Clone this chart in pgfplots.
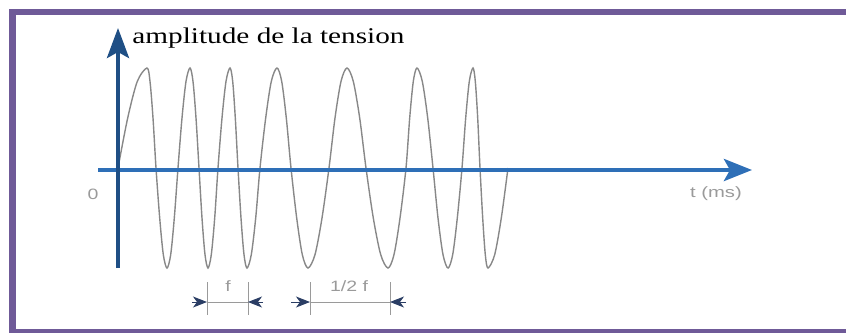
\documentclass[border=0pt]{standalone}
\usepackage{fontspec}
\setmainfont{Liberation Serif}
\setsansfont{Liberation Sans}
\usepackage{pgfplots}
\pgfplotsset{compat=1.18}
\usetikzlibrary{arrows.meta}
\definecolor{framepurple}{HTML}{6F5A98}
\definecolor{yaxisblue}{HTML}{1F4F85}
\definecolor{xaxisblue}{HTML}{2E6FB7}
\definecolor{wavegray}{HTML}{888888}
\definecolor{labgray}{HTML}{9A9A9A}
\definecolor{headnavy}{HTML}{2A3D64}
\begin{document}
\begin{tikzpicture}
\begin{axis}[
  hide axis, scale only axis,
  width=846pt, height=333pt,
  xmin=0, xmax=846, ymin=0, ymax=333,
  y dir=reverse, clip=true,
]
% invisible corners fixing the picture size
\addplot[draw=none, mark=none] coordinates {(0,0) (846,333)};
% frame (open on the right)
\addplot[draw=framepurple, line width=6.5pt, line join=miter] coordinates {(846,12) (12.5,12) (12.5,329)};
\addplot[draw=framepurple, line width=4pt] coordinates {(9.25,331) (846,331)};
% keep the right side open
\addplot[draw=white, line width=9pt] coordinates {(842,15.6) (842,328.8)};
% signal
\addplot[wavegray, line width=1.4pt, smooth, tension=0.5] coordinates {
(118,168) (127.7,118) (137.3,81.4) (147,68) (150,81.4) (153,118) (156,168)
(159.7,218) (163.3,254.6) (167,268) (170.7,254.6) (174.3,218) (178,168)
(182,118) (186,81.4) (190,68) (193,81.4) (196,118) (199,168)
(202,218) (205,254.6) (208,268) (211.3,254.6) (214.7,218) (218,168)
(222,118) (226,81.4) (230,68) (232.7,81.4) (235.3,118) (238,168)
(241,218) (244,254.6) (247,268) (251.3,254.6) (255.7,218) (260,168)
(265.7,118) (271.3,81.4) (277,68) (281.7,81.4) (286.3,118) (291,168)
(296.7,218) (302.3,254.6) (308,268) (315,254.6) (322,218) (329,168)
(335,118) (341,81.4) (347,68) (353.3,81.4) (359.7,118) (366,168)
(373.3,218) (380.7,254.6) (388,268) (394,254.6) (400,218) (406,168)
(409.7,118) (413.3,81.4) (417,68) (422.3,81.4) (427.7,118) (433,168)
(438,218) (443,254.6) (448,268) (452.7,254.6) (457.3,218) (462,168)
(465.7,118) (469.3,81.4) (473,68) (475.3,81.4) (477.7,118) (480,168)
(482.7,218) (485.3,254.6) (488,268) (494.7,254.6) (501.3,218) (508,168)
};
% axes
\addplot[xaxisblue, line width=4.5pt, -{Stealth[length=28pt,width=22pt,inset=6pt]}] coordinates {(98,170) (752,170)};
\addplot[yaxisblue, line width=4pt, -{Stealth[length=30pt,width=22pt,inset=6pt]}] coordinates {(118,268) (118,28)};
% dimension markers
\addplot[labgray, line width=1pt] coordinates {(207,282) (207,315)};
\addplot[labgray, line width=1pt] coordinates {(248,282) (248,315)};
\addplot[labgray, line width=1pt] coordinates {(207,302) (248,302)};
\addplot[labgray, line width=1pt] coordinates {(310,282) (310,315)};
\addplot[labgray, line width=1pt] coordinates {(390,282) (390,315)};
\addplot[labgray, line width=1pt] coordinates {(310,302) (390,302)};
\addplot[headnavy, line width=1pt, -{Stealth[length=14pt,width=11pt,inset=4pt]}] coordinates {(192,302) (207,302)};
\addplot[headnavy, line width=1pt, -{Stealth[length=14pt,width=11pt,inset=4pt]}] coordinates {(263,302) (248,302)};
\addplot[headnavy, line width=1pt, -{Stealth[length=14pt,width=11pt,inset=4pt]}] coordinates {(291,302) (310,302)};
\addplot[headnavy, line width=1pt, -{Stealth[length=14pt,width=11pt,inset=4pt]}] coordinates {(406,302) (390,302)};
% labels
\node[anchor=base, inner sep=0pt] at (axis cs:268.5,43) {\scalebox{1.3}[1]{\fontsize{22.5}{26}\selectfont amplitude de la tension}};
\node[anchor=center, inner sep=0pt, text=labgray] at (axis cs:93,194) {\scalebox{1.3}[1]{\sffamily\fontsize{15}{17}\selectfont 0}};
\node[anchor=center, inner sep=0pt, text=labgray] at (axis cs:716,194) {\scalebox{1.35}[1]{\sffamily\fontsize{15}{17}\selectfont t (ms)}};
\node[anchor=center, inner sep=0pt, text=labgray] at (axis cs:228,286) {\scalebox{1.3}[1]{\sffamily\fontsize{15}{17}\selectfont f}};
\node[anchor=center, inner sep=0pt, text=labgray] at (axis cs:349,286) {\scalebox{1.3}[1]{\sffamily\fontsize{15}{17}\selectfont 1/2 f}};
\end{axis}
\end{tikzpicture}
\end{document}
